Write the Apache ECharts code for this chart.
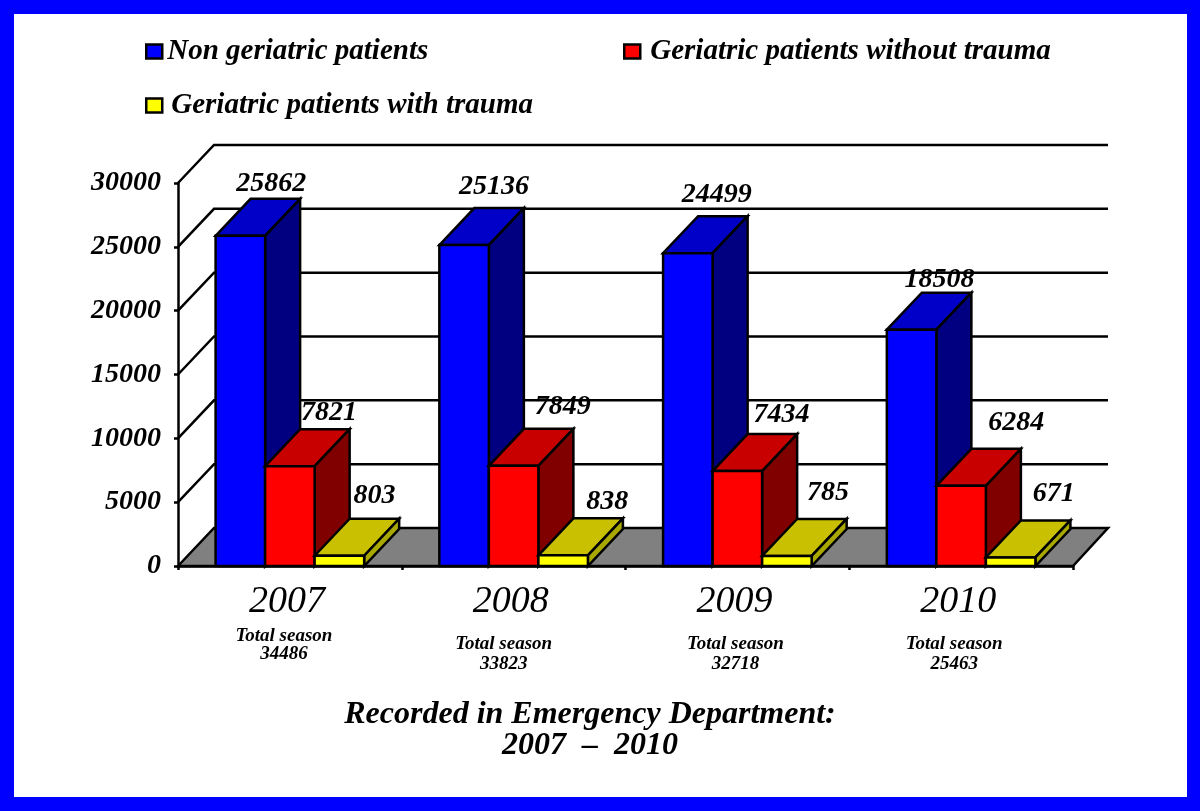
<!DOCTYPE html>
<html lang="en">
<head>
    <meta charset="UTF-8">
    <title>Recorded in Emergency Department</title>
    <script src="https://cdn.jsdelivr.net/npm/echarts@6/dist/echarts.min.js"></script>
    <style>
        html, body { margin: 0; padding: 0; background: #fff; }
        #main { width: 1200px; height: 811px; filter: blur(0.7px); }
    </style>
</head>
<body>
<div id="main"></div>
<script type="text/javascript">
    // data
    var years = ['2007', '2008', '2009', '2010'];
    var nonGeriatric = [25862, 25136, 24499, 18508];
    var geriatricNoTrauma = [7821, 7849, 7434, 6284];
    var geriatricTrauma = [803, 838, 785, 671];
    var totals = ['34486', '33823', '32718', '25463'];
    var yTicks = [0, 5000, 10000, 15000, 20000, 25000, 30000];

    var serif = '"Liberation Serif", "Times New Roman", serif';

    // 3d look: how far the back of a bar / the wall sits from the front
    var barDx = 35, barDy = -37;
    var wallDx = 36, wallDy = -38;
    var barsInBand = 3, gapShare = 0.336;
    var lineW = 2.5;

    // value labels were placed by hand in the original, [dx, dy] from bar top centre
    var nudgeBlue = [[31, -52], [30, -58], [29, -58], [28, -50]];
    var nudgeRed = [[39, -53], [49, -59], [44, -56], [55, -63]];
    var nudgeYellow = [[35, -60], [44, -54], [41, -63], [43, -64]];
    var nudgeTotals = [[-6, 70, 88], [-10, 78, 98], [-2, 78, 98], [-7, 78, 98]];

    function renderWall(params, api) {
        var cs = params.coordSys;
        var y = api.coord([0, api.value(1)])[1];
        var x0 = cs.x, x1 = cs.x + cs.width;
        var kids = [];
        if (api.value(1) === 0) {
            kids.push({
                type: 'polygon',
                shape: {points: [[x0, y], [x0 + wallDx, y + wallDy], [x1 + wallDx - 1, y + wallDy], [x1, y]]},
                style: {fill: '#808080', stroke: '#000', lineWidth: lineW}
            });
        } else {
            kids.push({
                type: 'polyline',
                shape: {points: [[x0, y], [x0 + wallDx, y + wallDy], [x1 + wallDx - 1, y + wallDy]]},
                style: {stroke: '#000', lineWidth: lineW, fill: null}
            });
        }
        return {type: 'group', children: kids};
    }

    function barRenderer(slot, front, top, side, nudges) {
        return function (params, api) {
            var i = api.value(0);
            var v = api.value(1);
            var band = api.size([1, 0])[0];
            var w = band * (1 - gapShare) / barsInBand;
            var mid = api.coord([i, v]);
            var base = api.coord([i, 0])[1];
            var l = mid[0] + (slot - barsInBand / 2) * w;
            var r = l + w;
            var t = mid[1];
            var st = {stroke: '#000', lineWidth: lineW, lineJoin: 'miter'};
            function face(pts, fill) {
                return {type: 'polygon', shape: {points: pts}, style: Object.assign({fill: fill}, st)};
            }
            return {
                type: 'group',
                children: [
                    face([[l, t], [l + barDx, t + barDy], [r + barDx, t + barDy], [r, t]], top),
                    face([[r, t], [r + barDx, t + barDy], [r + barDx, base + barDy], [r, base]], side),
                    face([[l, t], [r, t], [r, base], [l, base]], front),
                    {
                        type: 'text',
                        x: (l + r) / 2 + nudges[i][0],
                        y: t + nudges[i][1],
                        style: {
                            text: String(v),
                            font: 'italic bold 28px ' + serif,
                            fill: '#000',
                            align: 'center',
                            verticalAlign: 'middle'
                        }
                    }
                ]
            };
        };
    }

    function renderTotals(params, api) {
        var i = api.value(0);
        var p = api.coord([i, 0]);
        var n = nudgeTotals[i];
        function txt(s, dy) {
            return {
                type: 'text', x: p[0] + n[0], y: p[1] + dy,
                style: {
                    text: s, font: 'italic bold 19px ' + serif, fill: '#000',
                    align: 'center', verticalAlign: 'middle'
                }
            };
        }
        return {type: 'group', children: [txt('Total season', n[1]), txt(totals[i], n[2])]};
    }

    function pairs(arr) {
        return arr.map(function (v, i) { return [i, v]; });
    }

    function legendAt(name, left, top, gap, color) {
        return {
            left: left, top: top, padding: 0,
            selectedMode: false,
            itemWidth: 16, itemHeight: 14, itemGap: 5,
            textStyle: {
                fontFamily: serif, fontStyle: 'italic', fontWeight: 'bold', fontSize: 29,
                color: '#000', padding: [0, 0, 0, gap]
            },
            data: [{name: name, icon: 'rect', itemStyle: {color: color, borderColor: '#000', borderWidth: 2.5}}]
        };
    }

    var names = ['Non geriatric patients', 'Geriatric patients without trauma', 'Geriatric patients with trauma'];

    var option = {
        animation: false,
        backgroundColor: '#0000ff',
        title: {
            text: 'Recorded in Emergency Department:\n2007  –  2010',
            left: 590, top: 699, textAlign: 'center', padding: 0,
            textStyle: {fontFamily: serif, fontStyle: 'italic', fontWeight: 'bold', fontSize: 32, lineHeight: 31, color: '#000'}
        },
        legend: [
            legendAt(names[0], 145, 37, 0, '#0000ff'),
            legendAt(names[1], 623, 37, 5, '#ff0000'),
            legendAt(names[2], 145, 91, 4, '#ffff00')
        ],
        graphic: [{
            type: 'rect', z: -1,
            shape: {x: 14, y: 14, width: 1173, height: 783},
            style: {fill: '#fff'}
        }],
        grid: {left: 178, top: 183, width: 895, height: 383},
        xAxis: {
            type: 'category',
            data: years,
            axisLine: {lineStyle: {color: '#000', width: lineW}},
            axisTick: {show: true, length: 4, lineStyle: {color: '#000', width: lineW}},
            axisLabel: {
                margin: 17, color: '#000', padding: [0, 6, 0, 0],
                fontFamily: serif, fontStyle: 'italic', fontSize: 38
            }
        },
        yAxis: {
            type: 'value', min: 0, max: 30000, interval: 5000,
            splitLine: {show: false},
            axisLine: {show: true, lineStyle: {color: '#000', width: lineW}},
            axisTick: {show: true, length: 4, lineStyle: {color: '#000', width: lineW}},
            axisLabel: {
                margin: 17, color: '#000',
                formatter: function (v) { return String(v); },
                fontFamily: serif, fontStyle: 'italic', fontWeight: 'bold', fontSize: 28
            }
        },
        series: [
            {
                type: 'custom', name: 'wall', renderItem: renderWall, silent: true,
                data: pairs(yTicks).map(function (d) { return [0, d[1]]; }),
                encode: {x: 0, y: 1}, z: 1
            },
            {
                type: 'custom', name: names[0], z: 2,
                itemStyle: {color: '#0000ff'},
                renderItem: barRenderer(0, '#0000ff', '#0000c8', '#000080', nudgeBlue),
                data: pairs(nonGeriatric), encode: {x: 0, y: 1}
            },
            {
                type: 'custom', name: names[1], z: 3,
                itemStyle: {color: '#ff0000'},
                renderItem: barRenderer(1, '#ff0000', '#c80000', '#800000', nudgeRed),
                data: pairs(geriatricNoTrauma), encode: {x: 0, y: 1}
            },
            {
                type: 'custom', name: names[2], z: 4,
                itemStyle: {color: '#ffff00'},
                renderItem: barRenderer(2, '#ffff00', '#c8c000', '#a8a800', nudgeYellow),
                data: pairs(geriatricTrauma), encode: {x: 0, y: 1}
            },
            {
                type: 'custom', name: 'totals', z: 5, silent: true,
                renderItem: renderTotals,
                data: years.map(function (y, i) { return [i, 0]; }),
                encode: {x: 0, y: 1}
            }
        ]
    };

    var myChart = echarts.init(document.getElementById('main'));
    myChart.setOption(option);
</script>
</body>
</html>
